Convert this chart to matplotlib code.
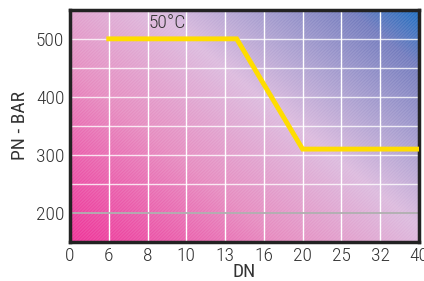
import numpy as np
import matplotlib.pyplot as plt
from matplotlib import font_manager
from matplotlib.colors import LinearSegmentedColormap

# eixo DN categórico
dn_labels = ['0', '6', '8', '10', '13', '16', '20', '25', '32', '40']
pn_ticks = [200, 300, 400, 500]

# curva PN x DN (posição no eixo categórico)
curve_x = [1, 4.3, 6, 9]
curve_pn = [500, 500, 310, 310]

nomes = {f.name for f in font_manager.fontManager.ttflist}
cond = [n for n in ['Roboto Condensed', 'Liberation Sans Narrow', 'DejaVu Sans Condensed',
                    'Open Sans Condensed', 'Noto Sans Condensed'] if n in nomes]
plt.rcParams['font.family'] = cond + ['DejaVu Sans']
plt.rcParams['font.stretch'] = 'condensed'
plt.rcParams['font.weight'] = 'light'

fig = plt.figure(figsize=(4.24, 2.81), dpi=100)
ax = fig.add_axes([0.165, 0.139, 0.823, 0.826])

xmin, xmax = 0, 9
ymin, ymax = 150, 550

# fundo em degradê (rosa -> lilás -> azul)
cmap = LinearSegmentedColormap.from_list('bg', [
    (0.0, '#ee3298'), (0.3, '#e68bc0'), (0.55, '#dcbade'),
    (0.7, '#ab9fd0'), (0.88, '#727abd'), (1.0, '#1a6cc0')])
u = np.linspace(0, 1, 300)
v = np.linspace(0, 1, 200)
U, Vv = np.meshgrid(u, v)
T = (U * 0.55 + Vv * 0.45)
T = T ** 1.1
ax.imshow(T, cmap=cmap, extent=[xmin, xmax, ymin, ymax], origin='lower',
          aspect='auto', zorder=0, interpolation='bilinear')

# hachura fina
ax.fill_between([xmin, xmax], ymin, ymax, facecolor='none', edgecolor=(1, 1, 1, 0.12),
                hatch='//////////', linewidth=0, zorder=1)

# grade
for i in range(1, 9):
    ax.axvline(i, color='white', lw=1.0, zorder=2)
for y in range(250, 550, 50):
    ax.axhline(y, color='white', lw=1.0, alpha=0.8, zorder=2)
ax.axhline(200, color='#b0b0b0', lw=1.3, zorder=2)

ax.plot(curve_x, curve_pn, color='#ffdd00', lw=3.5, solid_joinstyle='miter', zorder=3)

ax.text(2.5, 527, '50°C', fontsize=14, ha='center', va='center', color='#333333', zorder=4)

ax.set_xlim(xmin, xmax)
ax.set_ylim(ymin, ymax)
ax.set_xticks(range(len(dn_labels)))
ax.set_xticklabels(dn_labels)
ax.set_yticks(pn_ticks)
ax.tick_params(length=0, labelsize=14, colors='#333333', pad=4)
ax.set_xlabel('DN', fontsize=14, color='#333333', labelpad=-1.5)
ax.set_ylabel('PN - BAR', fontsize=14, color='#333333', labelpad=5)
for s in ax.spines.values():
    s.set_linewidth(2.5)
    s.set_color('#222222')

fig.savefig('out.png', dpi=100)
